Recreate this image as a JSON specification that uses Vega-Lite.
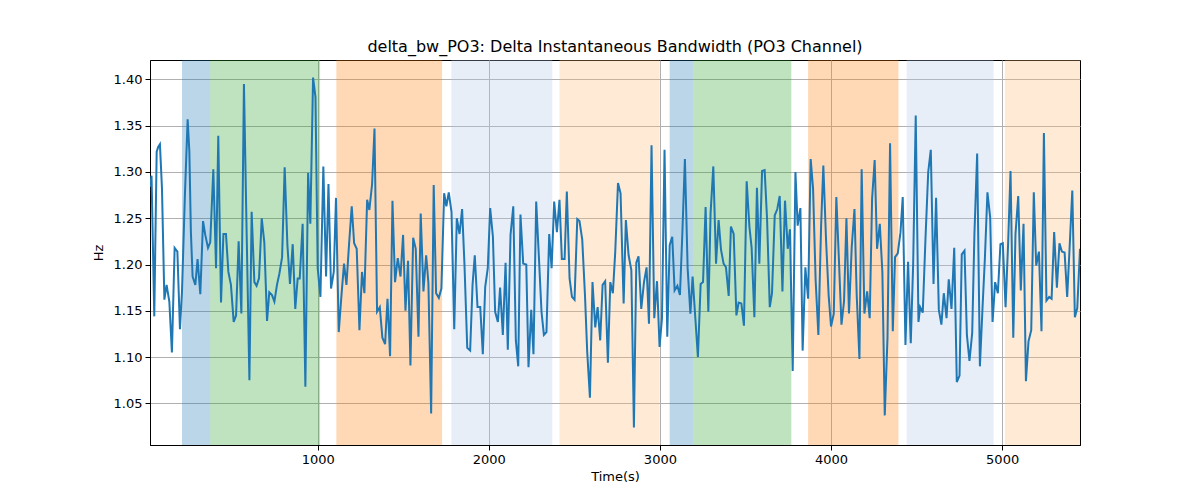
{
  "$schema": "https://vega.github.io/schema/vega-lite/v6.json",
  "autosize": {"type": "none"},
  "padding": {"left": 150, "top": 60, "right": 120, "bottom": 55},
  "width": 930,
  "height": 385,
  "background": "white",
  "title": {
    "text": "delta_bw_PO3: Delta Instantaneous Bandwidth (PO3 Channel)",
    "font": "DejaVu Sans",
    "fontSize": 16,
    "fontWeight": "normal",
    "color": "black",
    "anchor": "middle",
    "offset": 5
  },
  "datasets": {
    "spans": [
      {"start": 207, "end": 372, "phase": "p0"},
      {"start": 372, "end": 1014, "phase": "p1"},
      {"start": 1109, "end": 1727, "phase": "p2"},
      {"start": 1781, "end": 2371, "phase": "p3"},
      {"start": 2413, "end": 2998, "phase": "p4"},
      {"start": 3057, "end": 3193, "phase": "p0"},
      {"start": 3193, "end": 3768, "phase": "p1"},
      {"start": 3866, "end": 4394, "phase": "p2"},
      {"start": 4442, "end": 4950, "phase": "p3"},
      {"start": 5016, "end": 5455, "phase": "p4"}
    ],
    "series": [
      {"t":20,"v":1.284},{"t":29,"v":1.296},{"t":45,"v":1.144},{"t":59,"v":1.322},{"t":68,"v":1.327},{"t":78,"v":1.330},{"t":90,"v":1.282},{"t":104,"v":1.162},{"t":117,"v":1.178},{"t":133,"v":1.160},
      {"t":148,"v":1.105},{"t":164,"v":1.218},{"t":180,"v":1.214},{"t":195,"v":1.130},{"t":207,"v":1.171},{"t":224,"v":1.275},{"t":240,"v":1.357},{"t":250,"v":1.322},{"t":259,"v":1.235},{"t":269,"v":1.187},
      {"t":285,"v":1.178},{"t":298,"v":1.206},{"t":314,"v":1.168},{"t":330,"v":1.247},{"t":343,"v":1.232},{"t":359,"v":1.218},{"t":372,"v":1.224},{"t":390,"v":1.303},{"t":406,"v":1.196},{"t":419,"v":1.339},
      {"t":435,"v":1.159},{"t":449,"v":1.233},{"t":464,"v":1.233},{"t":478,"v":1.192},{"t":493,"v":1.178},{"t":509,"v":1.138},{"t":523,"v":1.145},{"t":538,"v":1.225},{"t":554,"v":1.147},{"t":569,"v":1.395},
      {"t":585,"v":1.232},{"t":601,"v":1.075},{"t":614,"v":1.257},{"t":630,"v":1.181},{"t":643,"v":1.177},{"t":657,"v":1.185},{"t":673,"v":1.250},{"t":688,"v":1.224},{"t":704,"v":1.139},{"t":717,"v":1.170},
      {"t":733,"v":1.167},{"t":747,"v":1.160},{"t":762,"v":1.178},{"t":776,"v":1.190},{"t":792,"v":1.208},{"t":807,"v":1.305},{"t":823,"v":1.221},{"t":838,"v":1.179},{"t":854,"v":1.222},{"t":869,"v":1.152},
      {"t":883,"v":1.185},{"t":895,"v":1.185},{"t":912,"v":1.244},{"t":928,"v":1.068},{"t":944,"v":1.299},{"t":957,"v":1.244},{"t":973,"v":1.402},{"t":987,"v":1.381},{"t":1000,"v":1.196},{"t":1016,"v":1.165},
      {"t":1033,"v":1.306},{"t":1049,"v":1.187},{"t":1063,"v":1.287},{"t":1078,"v":1.174},{"t":1094,"v":1.192},{"t":1107,"v":1.272},{"t":1123,"v":1.127},{"t":1139,"v":1.167},{"t":1154,"v":1.201},{"t":1168,"v":1.178},
      {"t":1183,"v":1.221},{"t":1199,"v":1.263},{"t":1213,"v":1.223},{"t":1228,"v":1.217},{"t":1244,"v":1.129},{"t":1259,"v":1.192},{"t":1273,"v":1.169},{"t":1289,"v":1.270},{"t":1302,"v":1.259},{"t":1318,"v":1.287},
      {"t":1332,"v":1.347},{"t":1347,"v":1.149},{"t":1363,"v":1.154},{"t":1378,"v":1.121},{"t":1394,"v":1.114},{"t":1408,"v":1.163},{"t":1423,"v":1.101},{"t":1437,"v":1.269},{"t":1452,"v":1.181},{"t":1468,"v":1.207},
      {"t":1484,"v":1.187},{"t":1499,"v":1.232},{"t":1513,"v":1.150},{"t":1528,"v":1.204},{"t":1542,"v":1.091},{"t":1558,"v":1.229},{"t":1573,"v":1.217},{"t":1589,"v":1.122},{"t":1602,"v":1.255},{"t":1618,"v":1.171},
      {"t":1634,"v":1.210},{"t":1647,"v":1.180},{"t":1663,"v":1.039},{"t":1678,"v":1.286},{"t":1692,"v":1.169},{"t":1708,"v":1.164},{"t":1723,"v":1.174},{"t":1739,"v":1.277},{"t":1752,"v":1.263},{"t":1766,"v":1.278},
      {"t":1782,"v":1.257},{"t":1798,"v":1.130},{"t":1813,"v":1.250},{"t":1829,"v":1.233},{"t":1844,"v":1.260},{"t":1858,"v":1.199},{"t":1874,"v":1.110},{"t":1891,"v":1.107},{"t":1905,"v":1.178},{"t":1918,"v":1.210},
      {"t":1934,"v":1.154},{"t":1950,"v":1.154},{"t":1965,"v":1.103},{"t":1979,"v":1.176},{"t":1994,"v":1.196},{"t":2008,"v":1.261},{"t":2024,"v":1.230},{"t":2037,"v":1.149},{"t":2053,"v":1.138},{"t":2066,"v":1.175},
      {"t":2082,"v":1.124},{"t":2098,"v":1.202},{"t":2111,"v":1.108},{"t":2127,"v":1.232},{"t":2143,"v":1.263},{"t":2158,"v":1.118},{"t":2172,"v":1.090},{"t":2185,"v":1.254},{"t":2201,"v":1.201},{"t":2219,"v":1.200},
      {"t":2232,"v":1.089},{"t":2248,"v":1.151},{"t":2261,"v":1.103},{"t":2277,"v":1.268},{"t":2293,"v":1.207},{"t":2308,"v":1.149},{"t":2322,"v":1.124},{"t":2337,"v":1.127},{"t":2353,"v":1.233},{"t":2367,"v":1.196},
      {"t":2382,"v":1.268},{"t":2398,"v":1.235},{"t":2413,"v":1.270},{"t":2427,"v":1.206},{"t":2443,"v":1.206},{"t":2456,"v":1.279},{"t":2472,"v":1.185},{"t":2486,"v":1.165},{"t":2501,"v":1.162},{"t":2517,"v":1.249},
      {"t":2530,"v":1.247},{"t":2546,"v":1.227},{"t":2562,"v":1.167},{"t":2575,"v":1.106},{"t":2591,"v":1.056},{"t":2606,"v":1.181},{"t":2622,"v":1.132},{"t":2636,"v":1.154},{"t":2651,"v":1.118},{"t":2665,"v":1.178},
      {"t":2680,"v":1.182},{"t":2696,"v":1.094},{"t":2710,"v":1.181},{"t":2725,"v":1.169},{"t":2739,"v":1.214},{"t":2755,"v":1.288},{"t":2770,"v":1.277},{"t":2788,"v":1.158},{"t":2801,"v":1.248},{"t":2817,"v":1.210},
      {"t":2833,"v":1.194},{"t":2848,"v":1.024},{"t":2862,"v":1.202},{"t":2875,"v":1.209},{"t":2891,"v":1.152},{"t":2907,"v":1.181},{"t":2922,"v":1.197},{"t":2936,"v":1.136},{"t":2951,"v":1.329},{"t":2967,"v":1.142},
      {"t":2983,"v":1.182},{"t":2998,"v":1.111},{"t":3012,"v":1.142},{"t":3027,"v":1.324},{"t":3043,"v":1.122},{"t":3057,"v":1.221},{"t":3072,"v":1.230},{"t":3086,"v":1.172},{"t":3102,"v":1.177},{"t":3117,"v":1.167},
      {"t":3131,"v":1.233},{"t":3146,"v":1.314},{"t":3162,"v":1.196},{"t":3178,"v":1.147},{"t":3191,"v":1.187},{"t":3207,"v":1.142},{"t":3222,"v":1.100},{"t":3238,"v":1.179},{"t":3252,"v":1.181},{"t":3267,"v":1.262},
      {"t":3283,"v":1.149},{"t":3296,"v":1.255},{"t":3312,"v":1.306},{"t":3328,"v":1.201},{"t":3343,"v":1.248},{"t":3357,"v":1.216},{"t":3372,"v":1.201},{"t":3386,"v":1.197},{"t":3402,"v":1.166},{"t":3415,"v":1.241},
      {"t":3431,"v":1.233},{"t":3447,"v":1.145},{"t":3460,"v":1.159},{"t":3476,"v":1.158},{"t":3491,"v":1.134},{"t":3507,"v":1.290},{"t":3523,"v":1.241},{"t":3536,"v":1.218},{"t":3552,"v":1.143},{"t":3567,"v":1.283},
      {"t":3581,"v":1.201},{"t":3597,"v":1.301},{"t":3612,"v":1.302},{"t":3626,"v":1.250},{"t":3642,"v":1.154},{"t":3655,"v":1.169},{"t":3671,"v":1.253},{"t":3686,"v":1.260},{"t":3700,"v":1.274},{"t":3716,"v":1.171},
      {"t":3731,"v":1.269},{"t":3747,"v":1.217},{"t":3760,"v":1.238},{"t":3776,"v":1.085},{"t":3792,"v":1.300},{"t":3805,"v":1.242},{"t":3821,"v":1.261},{"t":3834,"v":1.107},{"t":3850,"v":1.197},{"t":3866,"v":1.163},
      {"t":3881,"v":1.314},{"t":3895,"v":1.282},{"t":3910,"v":1.183},{"t":3926,"v":1.124},{"t":3942,"v":1.242},{"t":3955,"v":1.307},{"t":3971,"v":1.226},{"t":3986,"v":1.167},{"t":4000,"v":1.133},{"t":4016,"v":1.147},
      {"t":4031,"v":1.273},{"t":4045,"v":1.210},{"t":4061,"v":1.135},{"t":4076,"v":1.160},{"t":4090,"v":1.250},{"t":4105,"v":1.147},{"t":4121,"v":1.219},{"t":4137,"v":1.260},{"t":4150,"v":1.167},{"t":4166,"v":1.098},
      {"t":4179,"v":1.303},{"t":4195,"v":1.147},{"t":4211,"v":1.171},{"t":4226,"v":1.142},{"t":4240,"v":1.271},{"t":4255,"v":1.313},{"t":4269,"v":1.217},{"t":4285,"v":1.244},{"t":4300,"v":1.192},{"t":4314,"v":1.037},
      {"t":4330,"v":1.121},{"t":4345,"v":1.331},{"t":4361,"v":1.128},{"t":4374,"v":1.208},{"t":4390,"v":1.212},{"t":4406,"v":1.235},{"t":4419,"v":1.273},{"t":4435,"v":1.113},{"t":4450,"v":1.203},{"t":4466,"v":1.115},
      {"t":4480,"v":1.201},{"t":4495,"v":1.361},{"t":4511,"v":1.138},{"t":4521,"v":1.154},{"t":4536,"v":1.148},{"t":4552,"v":1.228},{"t":4568,"v":1.300},{"t":4583,"v":1.324},{"t":4599,"v":1.179},{"t":4614,"v":1.272},
      {"t":4630,"v":1.151},{"t":4645,"v":1.135},{"t":4659,"v":1.169},{"t":4675,"v":1.142},{"t":4688,"v":1.184},{"t":4704,"v":1.152},{"t":4720,"v":1.218},{"t":4735,"v":1.073},{"t":4751,"v":1.080},{"t":4764,"v":1.211},
      {"t":4780,"v":1.215},{"t":4794,"v":1.124},{"t":4809,"v":1.096},{"t":4825,"v":1.126},{"t":4838,"v":1.233},{"t":4854,"v":1.320},{"t":4870,"v":1.090},{"t":4885,"v":1.152},{"t":4899,"v":1.206},{"t":4914,"v":1.278},
      {"t":4930,"v":1.251},{"t":4944,"v":1.138},{"t":4959,"v":1.181},{"t":4975,"v":1.169},{"t":4990,"v":1.222},{"t":5004,"v":1.223},{"t":5020,"v":1.154},{"t":5035,"v":1.223},{"t":5049,"v":1.301},{"t":5065,"v":1.121},
      {"t":5078,"v":1.233},{"t":5094,"v":1.274},{"t":5109,"v":1.172},{"t":5125,"v":1.244},{"t":5139,"v":1.074},{"t":5154,"v":1.117},{"t":5170,"v":1.129},{"t":5185,"v":1.278},{"t":5199,"v":1.199},{"t":5215,"v":1.214},
      {"t":5230,"v":1.128},{"t":5244,"v":1.342},{"t":5259,"v":1.161},{"t":5275,"v":1.165},{"t":5289,"v":1.163},{"t":5304,"v":1.235},{"t":5320,"v":1.175},{"t":5335,"v":1.223},{"t":5349,"v":1.214},{"t":5365,"v":1.213},
      {"t":5380,"v":1.165},{"t":5394,"v":1.217},{"t":5410,"v":1.280},{"t":5425,"v":1.143},{"t":5439,"v":1.153},{"t":5455,"v":1.217}
    ]
  },
  "layer": [
    {
      "data": {"name": "spans"},
      "mark": {"type": "rect", "opacity": 0.3, "clip": true},
      "encoding": {
        "x": {"field": "start", "type": "quantitative", "scale": {"domain": [20, 5455], "nice": false, "zero": false}},
        "x2": {"field": "end"},
        "color": {
          "field": "phase",
          "type": "nominal",
          "legend": null,
          "scale": {
            "domain": ["p0", "p1", "p2", "p3", "p4"],
            "range": ["#1f77b4", "#2ca02c", "#ff7f0e", "#aec7e8", "#ffbb78"]
          }
        }
      }
    },
    {
      "data": {"name": "series"},
      "mark": {"type": "line", "color": "#1f77b4", "strokeWidth": 2, "clip": true},
      "encoding": {
        "x": {
          "field": "t",
          "type": "quantitative",
          "title": "Time(s)",
          "scale": {"domain": [20, 5455], "nice": false, "zero": false},
          "axis": {"values": [1000, 2000, 3000, 4000, 5000], "format": "d"}
        },
        "y": {
          "field": "v",
          "type": "quantitative",
          "title": "Hz",
          "scale": {"domain": [1.005, 1.421], "nice": false, "zero": false},
          "axis": {"values": [1.05, 1.1, 1.15, 1.2, 1.25, 1.3, 1.35, 1.4], "format": ".2f"}
        }
      }
    }
  ],
  "config": {
    "font": "DejaVu Sans",
    "view": {"stroke": "black", "strokeWidth": 1},
    "axis": {
      "labelFont": "DejaVu Sans",
      "titleFont": "DejaVu Sans",
      "labelFontSize": 13,
      "titleFontSize": 13,
      "titleFontWeight": "normal",
      "labelColor": "black",
      "titleColor": "black",
      "domainColor": "black",
      "tickColor": "black",
      "tickSize": 5,
      "labelPadding": 3,
      "grid": true,
      "gridColor": "#b0b0b0",
      "gridWidth": 1,
      "gridOpacity": 1
    },
    "axisX": {"titlePadding": 4},
    "axisY": {"titlePadding": 8}
  }
}
